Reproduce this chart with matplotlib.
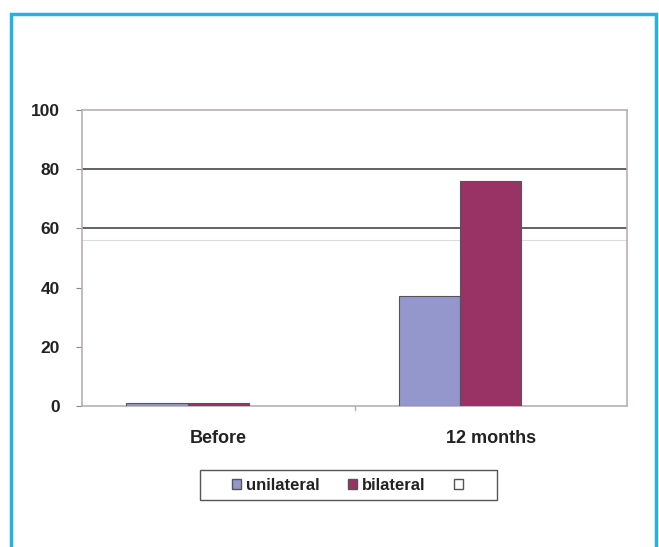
import matplotlib
matplotlib.use("Agg")
import matplotlib.pyplot as plt
from matplotlib.patches import Rectangle, Patch
import numpy as np

plt.rcParams['font.family'] = ['Liberation Sans', 'DejaVu Sans']

categories = ["Before", "12 months"]
series_names = ["unilateral", "bilateral", ""]
unilateral = [1, 37]
bilateral = [1, 76]
third = [0, 0]
colors = ["#9497cb", "#993366", "#ffffff"]
yticks = [0, 20, 40, 60, 80, 100]

W, H = 659, 547
fig = plt.figure(figsize=(W / 100, H / 100), dpi=100)
fig.patch.set_facecolor("white")

# outer frame
fig.patches.append(Rectangle((11 / W, -0.05), (656 - 11) / W, (H - 14) / H + 0.05,
                             transform=fig.transFigure, fill=False,
                             edgecolor="#22b2e6", linewidth=2.5))

ax = fig.add_axes([82 / W, (H - 406) / H, 545 / W, 296 / H])
x = np.arange(len(categories))
w = 0.225
data = [unilateral, bilateral, third]
for i, vals in enumerate(data):
    ax.bar(x - w + i * w, vals, width=w, color=colors[i],
           edgecolor="#555555" if i < 2 else "none", linewidth=0.8, zorder=3)

ax.set_xlim(-0.5, 1.5)
ax.set_ylim(0, 100)
ax.set_yticks(yticks)
ax.set_yticklabels([str(v) for v in yticks], fontsize=12.5, fontweight="bold",
                   color="#222222")
ax.set_xticks(x)
ax.set_xticklabels(categories, fontsize=13, fontweight="bold", color="#222222")
ax.tick_params(axis="x", length=0, pad=17)
ax.tick_params(axis="y", length=4, color="#888888", pad=12)

for v in [80, 60]:
    ax.axhline(v, color="#555555", linewidth=1.3, zorder=2)
ax.axhline(56, color="#dddddd", linewidth=0.8, zorder=1)

for side in ["left", "bottom", "right", "top"]:
    ax.spines[side].set_color("#b8b0b0")
    ax.spines[side].set_linewidth(1.2)
ax.axvline(0.5, ymin=-0.015, ymax=0.0, color="#b8b0b0", linewidth=1, clip_on=False)

# legend box drawn separately so the entries keep some padding inside it
fig.patches.append(Rectangle((200 / W, 1 - 500 / H), 297 / W, 30 / H,
                             transform=fig.transFigure, facecolor="white",
                             edgecolor="#555555", linewidth=1.0, zorder=1))
handles = [Patch(facecolor=colors[0], edgecolor="#555555"),
           Patch(facecolor=colors[1], edgecolor="#555555"),
           Patch(facecolor="white", edgecolor="#555555")]
leg = fig.legend(handles, series_names, loc="center",
                 bbox_to_anchor=(350 / W, 1 - 485 / H), ncol=3,
                 prop={"size": 12, "weight": "bold"},
                 frameon=False, handlelength=0.55, handleheight=0.55,
                 handletextpad=0.3, columnspacing=1.7, borderpad=0.2,
                 borderaxespad=0)
leg.set_zorder(3)
for t in leg.get_texts():
    t.set_color("#222222")

fig.savefig("out.png", dpi=100)
